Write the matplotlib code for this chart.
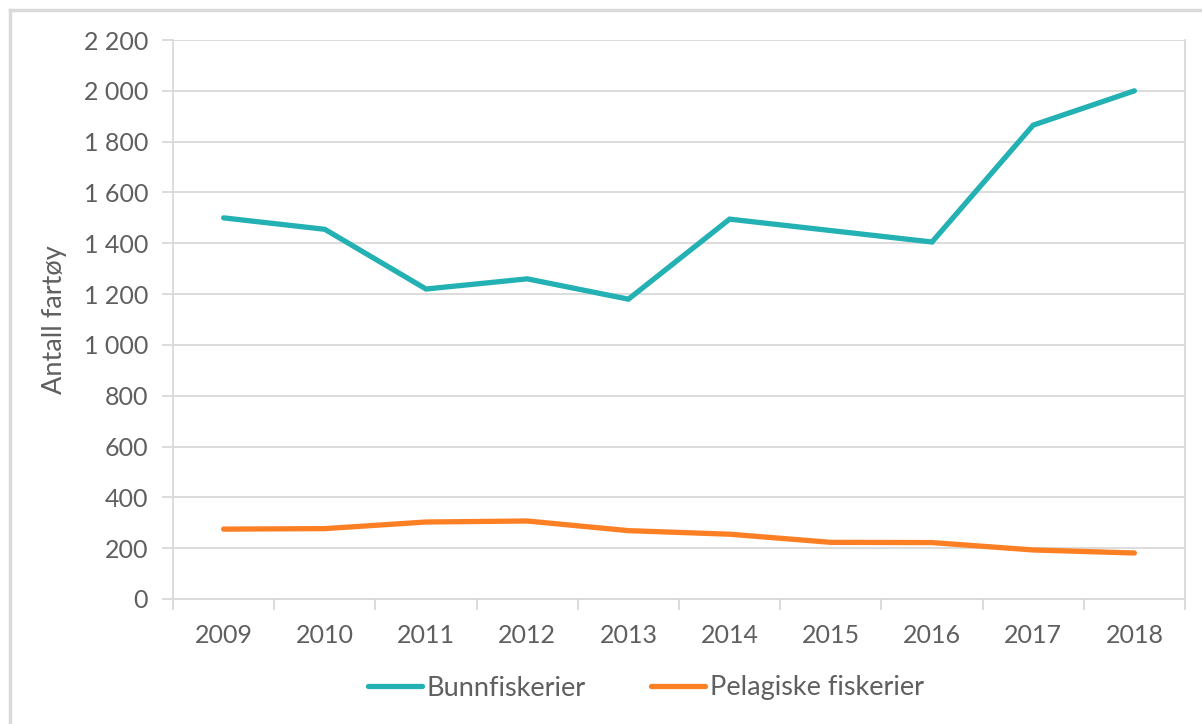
import matplotlib
matplotlib.use("Agg")
import matplotlib.pyplot as plt
from matplotlib.lines import Line2D
from matplotlib.ticker import FuncFormatter, FixedLocator, NullFormatter

years = ["2009", "2010", "2011", "2012", "2013", "2014", "2015", "2016", "2017", "2018"]
bunnfiskerier = [1500, 1455, 1220, 1260, 1180, 1495, 1450, 1405, 1865, 2000]
pelagiske = [275, 277, 303, 307, 269, 255, 223, 222, 193, 181]
series_names = ["Bunnfiskerier", "Pelagiske fiskerier"]

plt.rcParams["font.family"] = ["Lato", "DejaVu Sans"]
txt = "#5f5f5f"
grid = "#d9d9d9"

fig = plt.figure(figsize=(12.02, 7.24), dpi=100)
W, H = 1202, 724
ax = fig.add_axes([173 / W, 1 - 599 / H, (1185 - 173) / W, (599 - 40) / H])

x = list(range(len(years)))
ax.plot(x, bunnfiskerier, color="#23b1b4", lw=3.8, solid_capstyle="round",
        solid_joinstyle="miter", label=series_names[0])
ax.plot(x, pelagiske, color="#fd7f24", lw=3.8, solid_capstyle="round",
        solid_joinstyle="miter", label=series_names[1])

ax.set_xlim(-0.5, len(years) - 0.5)
ax.set_ylim(0, 2200)
ax.set_yticks(range(0, 2201, 200))
ax.yaxis.set_major_formatter(FuncFormatter(lambda v, p: f"{int(v):,}".replace(",", " ")))
ax.grid(axis="y", color=grid, lw=1.3)
ax.set_axisbelow(True)

# category labels centred, tick marks at the boundaries
ax.set_xticks(x)
ax.set_xticklabels(years)
ax.tick_params(axis="x", which="major", length=0, pad=18, labelsize=18, labelcolor=txt)
ax.xaxis.set_minor_locator(FixedLocator([i - 0.5 for i in range(len(years) + 1)]))
ax.xaxis.set_minor_formatter(NullFormatter())
ax.tick_params(axis="x", which="minor", length=8, width=1.3, color=grid)
ax.tick_params(axis="y", length=8, width=1.3, color=grid, pad=10, labelsize=18, labelcolor=txt)

ax.spines["top"].set_visible(False)
for s in ["left", "right", "bottom"]:
    ax.spines[s].set_color(grid)
    ax.spines[s].set_linewidth(1.3)

ax.set_ylabel("Antall fartøy", fontsize=19.5, color=txt, labelpad=12)

handles = [Line2D([], [], color="#23b1b4", lw=3.8, solid_capstyle="round"),
           Line2D([], [], color="#fd7f24", lw=3.8, solid_capstyle="round")]
fig.legend(handles, series_names, loc="center", bbox_to_anchor=(646 / W, 1 - 688 / H),
           ncol=2, frameon=False, fontsize=19.5, labelcolor=txt,
           handlelength=2.0, handletextpad=0.18, columnspacing=2.4)

# light border around the chart area
fig.add_artist(Line2D([10 / W, 10 / W], [0, 1 - 10 / H], color=grid, lw=2.5))
fig.add_artist(Line2D([10 / W, 1], [1 - 10 / H, 1 - 10 / H], color=grid, lw=2.5))

fig.savefig("out.png", dpi=100)
